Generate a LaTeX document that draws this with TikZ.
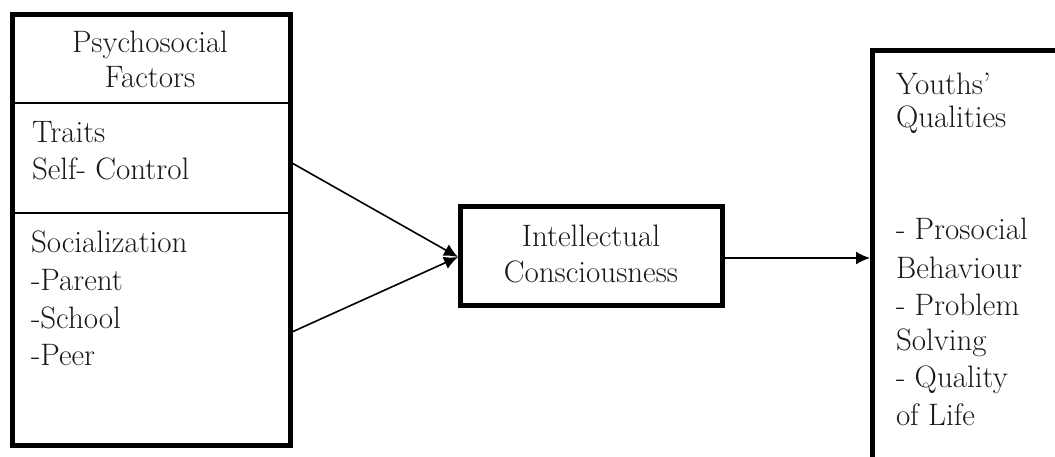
\documentclass[tikz,border=0pt]{standalone}
\usetikzlibrary{arrows.meta}
\begin{document}
\begin{tikzpicture}[x=1pt,y=-1pt,
  every node/.style={inner sep=0pt, outer sep=0pt},
  txt/.style={font=\fontsize{31}{38}\selectfont, text=black!90},
  bigbox/.style={draw, line width=5pt, rectangle, anchor=north west},
  divider/.style={line width=2pt},
  link/.style={line width=1.6pt, -{Latex[length=14pt,width=13pt]}}
]
\clip (0,0) rectangle (1055,457);
\fill[white] (0,0) rectangle (1055,457);
% boxes
\node[bigbox, minimum width=278pt, minimum height=430pt] (psf) at (12,15) {};
\node[bigbox, minimum width=262pt, minimum height=99pt] (ic) at (460.5,206.5) {};
\node[bigbox, minimum width=300pt, minimum height=450pt] (yq) at (872.5,51) {};
% dividers
\coordinate (d1l) at (12,103); \coordinate (d1r) at (290,103);
\coordinate (d2l) at (12,213); \coordinate (d2r) at (290,213);
\draw[divider] (d1l) -- (d1r);
\draw[divider] (d2l) -- (d2r);
% texts left
\node[txt, anchor=base] (t1) at (150,53) {Psychosocial};
\node[txt, anchor=base] (t2) at (150,88) {Factors};
\node[txt, anchor=base west] (t3) at (32,143) {Traits};
\node[txt, anchor=base west] (t4) at (32,180) {Self- Control};
\node[txt, anchor=base west] (t5) at (31,253) {Socialization};
\node[txt, anchor=base west] (t6) at (31,290) {-Parent};
\node[txt, anchor=base west] (t7) at (31,328) {-School};
\node[txt, anchor=base west] (t8) at (31,365) {-Peer};
% middle
\node[txt, anchor=base] (m1) at (591,247) {Intellectual};
\node[txt, anchor=base] (m2) at (591,283) {Consciousness};
% right
\node[txt, anchor=base west] (r1) at (896,95) {Youths'};
\node[txt, anchor=base west] (r2) at (896,128) {Qualities};
\node[txt, anchor=base west] (r3) at (896,240) {- Prosocial};
\node[txt, anchor=base west] (r4) at (896,278) {Behaviour};
\node[txt, anchor=base west] (r5) at (896,315) {- Problem};
\node[txt, anchor=base west] (r6) at (896,350) {Solving};
\node[txt, anchor=base west] (r7) at (896,387) {- Quality};
\node[txt, anchor=base west] (r8) at (896,425) {of Life};
% connectors
\coordinate (a1) at (292,163);
\coordinate (a2) at (292,332);
\coordinate (ictip) at (458,257);
\coordinate (icout) at (725,258);
\coordinate (yqin) at (870,258);
\draw[link] (a1) -- (ictip);
\draw[link] (a2) -- (ictip);
\draw[link] (icout) -- (yqin);
\end{tikzpicture}
\end{document}
